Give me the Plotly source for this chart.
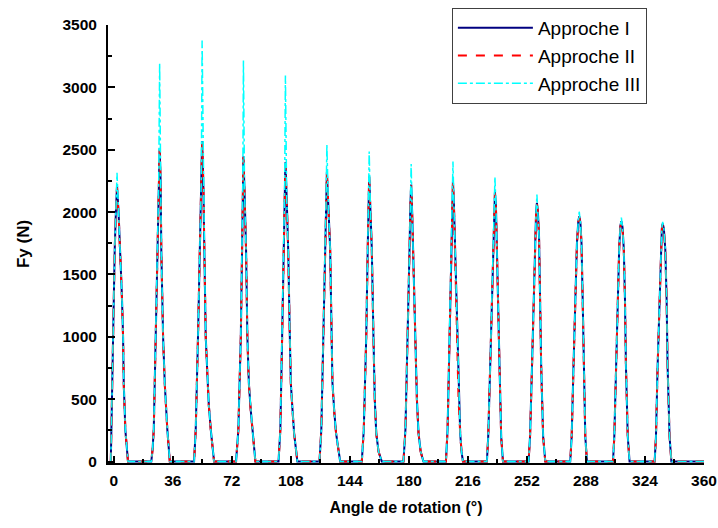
import plotly.graph_objects as go

# Angle de rotation (°) sample positions (one line per tooth engagement)
angle = [
    -1.8, -1.2, -0.6, 0.6, 1.3, 2.0, 3.0, 4.0, 5.0, 5.7, 6.1, 7.1, 8.7,
    22.9, 23.7, 24.4, 25.6, 26.6, 27.4, 28.0, 28.6, 29.0, 30.1, 31.1, 32.7, 34.2,
    49.0, 50.0, 51.4, 52.7, 53.4, 53.9, 54.6, 55.3, 56.1, 57.1, 58.0, 59.2, 61.2,
    74.6, 76.0, 77.5, 78.2, 78.7, 79.1, 79.8, 80.7, 81.5, 82.4, 83.5, 84.8, 86.4,
    100.5, 101.6, 102.7, 103.6, 104.2, 104.7, 105.5, 106.4, 107.4, 108.0, 109.0, 110.0, 112.0,
    125.5, 126.6, 127.9, 128.9, 129.5, 130.0, 130.9, 132.0, 132.9, 133.4, 134.5, 135.6, 138.1,
    151.3, 152.5, 154.0, 154.9, 155.3, 155.8, 156.6, 157.4, 158.4, 159.2, 160.1, 161.5, 163.5,
    176.7, 177.9, 179.4, 180.4, 180.9, 181.4, 182.0, 182.6, 183.9, 184.9, 185.9, 187.2, 188.9,
    202.6, 203.6, 204.8, 205.8, 206.4, 206.9, 207.5, 208.2, 209.3, 210.3, 211.3, 212.1, 213.0,
    227.6, 228.4, 229.6, 230.7, 231.6, 232.0, 232.5, 233.1, 233.6, 234.3, 235.3, 236.3, 237.4,
    253.0, 253.9, 255.1, 256.1, 257.0, 257.6, 258.1, 258.7, 259.4, 260.0, 260.7, 261.9, 263.2,
    278.4, 279.3, 280.4, 281.4, 282.5, 283.3, 283.9, 284.6, 285.3, 286.0, 286.6, 287.6, 288.6,
    304.5, 305.3, 306.3, 307.3, 308.3, 309.0, 309.6, 310.3, 311.1, 311.8, 312.4, 313.5, 314.6,
    329.9, 330.7, 331.7, 332.8, 333.7, 334.3, 334.8, 335.5, 336.4, 337.2, 337.8, 339.0, 340.1,
    360.0,
]

# Fy (N) - Approche I
fy_approche_1 = [
    0, 500, 1000, 1700, 2000, 2210, 1980, 1700, 1320, 1000, 630, 250, 0,
    0, 100, 254, 1003, 1700, 2200, 2510, 2250, 1700, 1003, 630, 254, 0,
    0, 254, 1003, 1700, 2250, 2570, 2250, 1700, 1003, 700, 450, 254, 0,
    0, 254, 1003, 1700, 2200, 2448, 2150, 1700, 1003, 629, 420, 228, 0,
    0, 254, 1003, 1700, 2150, 2400, 2100, 1700, 1003, 629, 420, 228, 0,
    0, 254, 1003, 1700, 2100, 2320, 2050, 1700, 1003, 629, 400, 228, 0,
    0, 254, 1003, 1700, 2100, 2287, 2000, 1700, 1003, 500, 228, 80, 0,
    0, 254, 1003, 1700, 2050, 2221, 2000, 1700, 1003, 500, 228, 80, 0,
    0, 254, 1003, 1700, 2080, 2247, 2050, 1700, 1003, 500, 228, 80, 0,
    0, 200, 762, 1298, 1850, 2050, 2160, 2050, 1800, 1298, 762, 200, 0,
    0, 200, 762, 1300, 1800, 2000, 2074, 2000, 1800, 1300, 762, 200, 0,
    0, 200, 762, 1300, 1750, 1920, 1966, 1920, 1750, 1300, 762, 200, 0,
    0, 200, 762, 1300, 1720, 1890, 1926, 1880, 1700, 1300, 762, 200, 0,
    0, 200, 762, 1300, 1700, 1870, 1908, 1870, 1700, 1300, 762, 200, 0,
    0,
]

# Fy (N) - Approche II
fy_approche_2 = [
    0, 490, 990, 1690, 1990, 2195, 1970, 1690, 1310, 990, 620, 245, 0,
    0, 95, 250, 995, 1690, 2190, 2500, 2240, 1690, 995, 625, 250, 0,
    0, 250, 995, 1690, 2240, 2560, 2240, 1690, 995, 695, 445, 250, 0,
    0, 250, 995, 1690, 2190, 2440, 2140, 1690, 995, 625, 415, 225, 0,
    0, 250, 995, 1690, 2140, 2390, 2090, 1690, 995, 625, 415, 225, 0,
    0, 250, 995, 1690, 2090, 2310, 2040, 1690, 995, 625, 395, 225, 0,
    0, 250, 995, 1690, 2090, 2280, 1990, 1690, 995, 495, 225, 78, 0,
    0, 250, 995, 1690, 2040, 2215, 1990, 1690, 995, 495, 225, 78, 0,
    0, 250, 995, 1690, 2070, 2240, 2040, 1690, 995, 495, 225, 78, 0,
    0, 198, 755, 1290, 1840, 2040, 2150, 2040, 1790, 1290, 755, 198, 0,
    0, 198, 755, 1290, 1790, 1990, 2066, 1990, 1790, 1290, 755, 198, 0,
    0, 198, 755, 1290, 1740, 1910, 1958, 1910, 1740, 1290, 755, 198, 0,
    0, 198, 755, 1290, 1710, 1880, 1918, 1870, 1690, 1290, 755, 198, 0,
    0, 198, 755, 1290, 1690, 1860, 1900, 1860, 1690, 1290, 755, 198, 0,
    0,
]

# Fy (N) - Approche III
fy_approche_3 = [
    0, 500, 1000, 1700, 2000, 2315, 1980, 1700, 1320, 1000, 630, 250, 0,
    0, 100, 254, 1003, 1700, 2200, 3195, 2250, 1700, 1003, 630, 254, 0,
    0, 254, 1003, 1700, 2250, 3375, 2250, 1700, 1003, 700, 450, 254, 0,
    0, 254, 1003, 1700, 2200, 3215, 2150, 1700, 1003, 629, 420, 228, 0,
    0, 254, 1003, 1700, 2150, 3095, 2100, 1700, 1003, 629, 420, 228, 0,
    0, 254, 1003, 1700, 2100, 2540, 2050, 1700, 1003, 629, 400, 228, 0,
    0, 254, 1003, 1700, 2100, 2485, 2000, 1700, 1003, 500, 228, 80, 0,
    0, 254, 1003, 1700, 2050, 2385, 2000, 1700, 1003, 500, 228, 80, 0,
    0, 254, 1003, 1700, 2080, 2405, 2050, 1700, 1003, 500, 228, 80, 0,
    0, 200, 762, 1298, 1850, 2050, 2280, 2050, 1800, 1298, 762, 200, 0,
    0, 200, 762, 1300, 1800, 2000, 2140, 2000, 1800, 1300, 762, 200, 0,
    0, 200, 762, 1300, 1750, 1920, 2003, 1920, 1750, 1300, 762, 200, 0,
    0, 200, 762, 1300, 1720, 1890, 1955, 1880, 1700, 1300, 762, 200, 0,
    0, 200, 762, 1300, 1700, 1870, 1922, 1870, 1700, 1300, 762, 200, 0,
    0,
]

x_ticks = [0, 36, 72, 108, 144, 180, 216, 252, 288, 324, 360]
y_ticks = [0, 500, 1000, 1500, 2000, 2500, 3000, 3500]

FONT = "Arial, Liberation Sans, sans-serif"

fig = go.Figure()
fig.add_trace(go.Scatter(x=angle, y=fy_approche_1, mode="lines", name="Approche I",
                         line=dict(color="#000080", width=2)))
fig.add_trace(go.Scatter(x=angle, y=fy_approche_2, mode="lines", name="Approche II",
                         line=dict(color="#FF0000", width=2, dash="dash")))
fig.add_trace(go.Scatter(x=angle, y=fy_approche_3, mode="lines", name="Approche III",
                         line=dict(color="#00FFFF", width=1.5, dash="dashdot")))

axis_common = dict(
    showline=True, linecolor="black", linewidth=2,
    ticks="inside", ticklen=7, tickwidth=2, tickcolor="black",
    showgrid=False, zeroline=False, mirror=False,
    tickfont=dict(family=FONT, size=15.5, color="black", weight="bold"),
)

fig.update_xaxes(
    range=[-3.5, 360], tickmode="array", tickvals=x_ticks,
    ticktext=[str(v) for v in x_ticks],
    minor=dict(ticks="inside", ticklen=4, tickwidth=2, tickcolor="black", dtick=18, tick0=0),
    title=dict(text="Angle de rotation (°)", font=dict(family=FONT, size=16, color="black", weight="bold"), standoff=14),
    ticklabelstandoff=2,
    **axis_common,
)
fig.update_yaxes(
    range=[-12, 3500], tickmode="array", tickvals=y_ticks,
    ticktext=[str(v) for v in y_ticks],
    minor=dict(ticks="inside", ticklen=4, tickwidth=2, tickcolor="black", dtick=250, tick0=0),
    title=dict(text="Fy (N)", font=dict(family=FONT, size=17, color="black", weight="bold"), standoff=28),
    ticklabelstandoff=6,
    **axis_common,
)

fig.update_layout(
    width=718, height=528,
    margin=dict(l=108, r=14, t=25, b=65, autoexpand=False),
    plot_bgcolor="white", paper_bgcolor="white",
    showlegend=True,
    legend=dict(
        x=0.577, y=1.039, xanchor="left", yanchor="top",
        bgcolor="white", bordercolor="#404040", borderwidth=1,
        font=dict(family=FONT, size=19, color="black"),
        itemwidth=75, tracegroupgap=0,
    ),
)

# Remove the default page margin / scrollbars so the figure fills the window,
# and hide the mode bar so it never overlaps the legend.
fig.write_html(
    "out.html",
    config={"displayModeBar": False},
    post_script="document.body.style.margin='0';document.body.style.overflow='hidden';"
                "document.documentElement.style.overflow='hidden';",
)
